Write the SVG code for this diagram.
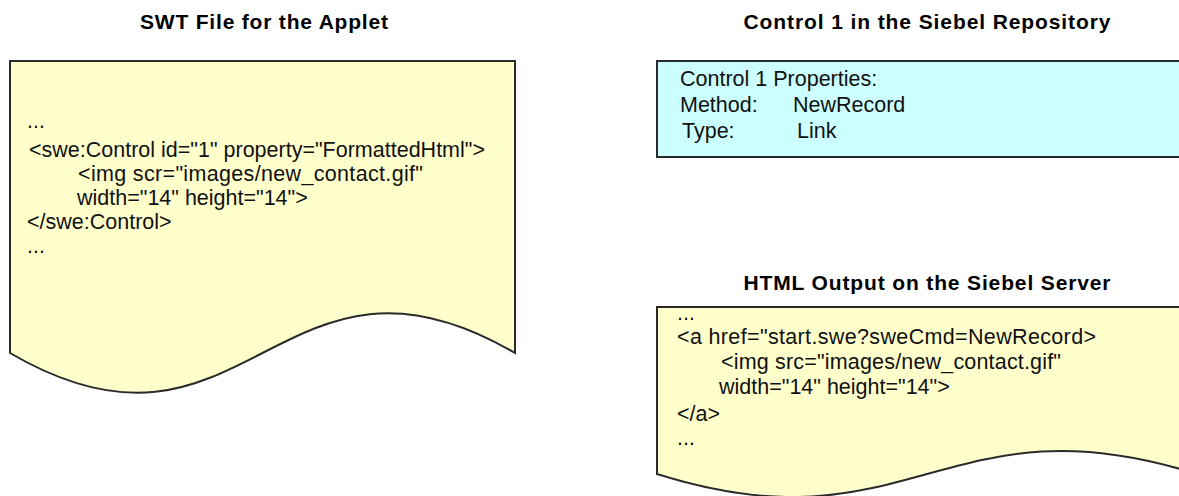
<svg xmlns="http://www.w3.org/2000/svg" width="1179" height="496" viewBox="0 0 1179 496">
<style>
.title{font-family:"Liberation Sans",Arial,sans-serif;font-weight:bold;font-size:21px;fill:#000;text-anchor:middle}
.body{font-family:"Liberation Sans",Arial,sans-serif;font-size:21.5px;fill:#111}
.shape{stroke:#2a2a2a;stroke-width:2;stroke-linejoin:miter}
.doc{fill:#FFFFCC}
.repo{fill:#CCFFFF}
</style>
<rect width="1179" height="496" fill="#fff"/>
<g id="swt-file">
<text class="title" x="264" y="29" textLength="248" lengthAdjust="spacing">SWT File for the Applet</text>
<path class="shape doc" d="M10,61 H515 V353 C279,215 246,491 10,353 Z"/>
<text class="body" x="27" y="128">...</text>
<text class="body" x="29" y="157" textLength="456" lengthAdjust="spacing">&lt;swe:Control id="1" property="FormattedHtml"&gt;</text>
<text class="body" x="78" y="181" textLength="345" lengthAdjust="spacing">&lt;img scr="images/new_contact.gif"</text>
<text class="body" x="77" y="205">width="14" height="14"&gt;</text>
<text class="body" x="27" y="229">&lt;/swe:Control&gt;</text>
<text class="body" x="27" y="253">...</text>
</g>
<g id="control-1">
<text class="title" x="927" y="29" textLength="367" lengthAdjust="spacing">Control 1 in the Siebel Repository</text>
<rect class="shape repo" x="657" y="61" width="545" height="96"/>
<text class="body" x="680" y="86">Control 1 Properties:</text>
<text class="body" x="680" y="112">Method:</text>
<text class="body" x="793" y="112">NewRecord</text>
<text class="body" x="682" y="138">Type:</text>
<text class="body" x="797" y="138">Link</text>
</g>
<g id="html-output">
<text class="title" x="927" y="290" textLength="367" lengthAdjust="spacing">HTML Output on the Siebel Server</text>
<path class="shape doc" d="M657,307 H1197 V474 C945,394 909,554 657,474 Z"/>
<text class="body" x="677" y="320">...</text>
<text class="body" x="677" y="344" textLength="419" lengthAdjust="spacing">&lt;a href="start.swe?sweCmd=NewRecord&gt;</text>
<text class="body" x="721" y="369" textLength="340" lengthAdjust="spacing">&lt;img src="images/new_contact.gif"</text>
<text class="body" x="719" y="394">width="14" height="14"&gt;</text>
<text class="body" x="677" y="421">&lt;/a&gt;</text>
<text class="body" x="677" y="445">...</text>
</g>
<g id="connectors"></g>
</svg>
